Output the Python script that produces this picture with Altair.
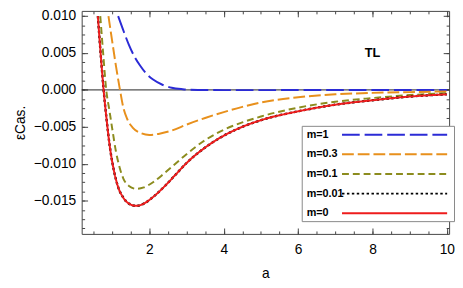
import altair as alt
import pandas as pd

# ---------------- data ----------------
m_labels = ["m=1", "m=0.3", "m=0.1", "m=0.01", "m=0"]
colors = ["#2b2bd6", "#e8901c", "#8c8c1e", "#000000", "#ee1c1c"]
dashes = [[18, 5], [12, 4], [7, 4], [2.5, 2.5], [1, 0]]
widths = [2.0, 2.0, 2.0, 2.4, 2.0]

a_m1 = [1.16, 1.29, 1.45, 1.6, 1.75, 1.9, 2.1, 2.35, 2.6, 2.9, 3.3, 4.0, 5.0, 6.0, 8.0, 10.0]
v_m1 = [0.0100, 0.0082, 0.0061, 0.0045, 0.0033, 0.0023, 0.0014, 0.0007, 0.0003, 0.0001,
        0.0, -0.00003, -0.00003, -0.00002, -0.00001, 0.0]

a_m03 = [0.90, 1.0, 1.1, 1.21, 1.3, 1.4, 1.55, 1.75, 2.0, 2.3, 2.6, 3.0, 3.5, 4.0, 4.5,
         5.0, 6.0, 7.0, 8.0, 9.0, 10.0]
v_m03 = [0.0100, 0.0066, 0.0033, 0.0, -0.0024, -0.0039, -0.0051, -0.0058, -0.0061, -0.0059,
         -0.0055, -0.0047, -0.0038, -0.0030, -0.0023, -0.0017, -0.0010, -0.0006, -0.0004,
         -0.0003, -0.0002]

a_m01 = [0.68, 0.76, 0.84, 0.92, 1.0, 1.1, 1.2, 1.3, 1.45, 1.65, 1.85, 2.1, 2.4, 2.7, 3.0,
         3.5, 4.0, 4.5, 5.0, 6.0, 7.0, 8.0, 9.0, 10.0]
v_m01 = [0.0100, 0.0048, 0.0, -0.0026, -0.0052, -0.0083, -0.0105, -0.0120, -0.0130, -0.0134,
         -0.0132, -0.0125, -0.0113, -0.0100, -0.0087, -0.0068, -0.0054, -0.0044, -0.0036,
         -0.0024, -0.0016, -0.0011, -0.0007, -0.00045]

a_m001 = [0.615, 0.69, 0.77, 0.85, 0.94, 1.05, 1.15, 1.3, 1.45, 1.65, 1.85, 2.1, 2.4, 2.7,
          3.0, 3.5, 4.0, 4.5, 5.0, 6.0, 7.0, 8.0, 9.0, 10.0]
v_m001 = [0.0100, 0.0049, 0.0, -0.0040, -0.0078, -0.0110, -0.0130, -0.0146, -0.0154, -0.0157,
          -0.0154, -0.0145, -0.0131, -0.0115, -0.0099, -0.0078, -0.0062, -0.0050, -0.0041,
          -0.0029, -0.0020, -0.0014, -0.0009, -0.0006]

a_m0 = [0.615, 0.69, 0.77, 0.85, 0.94, 1.05, 1.15, 1.3, 1.45, 1.65, 1.85, 2.1, 2.4, 2.7,
        3.0, 3.5, 4.0, 4.5, 5.0, 6.0, 7.0, 8.0, 9.0, 10.0]
v_m0 = [0.0100, 0.0049, 0.0, -0.0040, -0.0078, -0.0110, -0.0130, -0.0146, -0.0154, -0.0157,
        -0.0154, -0.0145, -0.0131, -0.0115, -0.0099, -0.0078, -0.0062, -0.0050, -0.0041,
        -0.0029, -0.0020, -0.0014, -0.0009, -0.0006]

x_major = [2, 4, 6, 8, 10]
x_minor = [0.5 * i for i in range(1, 21)]
y_major = [-0.015, -0.010, -0.005, 0.0, 0.005, 0.010]
y_minor = [round(-0.01875 + 0.00125 * i, 5) for i in range(0, 24)]

annot_a = [8.0]
annot_v = [0.005]
annot_t = ["TL"]

# ---------------- build ----------------
series = [(a_m1, v_m1), (a_m03, v_m03), (a_m01, v_m01), (a_m001, v_m001), (a_m0, v_m0)]
rows = []
for lab, (xs, ys) in zip(m_labels, series):
    for x, y in zip(xs, ys):
        rows.append({"m": lab, "a": x, "v": y})
df = pd.DataFrame(rows)

W, H = 374, 227
xscale = alt.Scale(domain=[0.18, 10.06], nice=False, zero=False)
yscale = alt.Scale(domain=[-0.0195, 0.0107], nice=False, zero=False)

FONT = "Liberation Sans"

axX = [
    alt.Axis(orient="bottom", values=x_major, title="a", ticks=False, tickSize=0, domain=True,
             labelPadding=9, titlePadding=10, format="d", labelFontSize=14, titleFontSize=14,
             titleFontWeight="normal"),
    alt.Axis(orient="top", offset=-H, values=x_major, labels=False, tickSize=6, domain=False, title=None),
    alt.Axis(orient="top", offset=-H, values=x_minor, labels=False, tickSize=3, domain=False, title=None),
    alt.Axis(orient="bottom", offset=-H, values=x_major, labels=False, tickSize=6, domain=True, title=None),
    alt.Axis(orient="bottom", offset=-H, values=x_minor, labels=False, tickSize=3, domain=False, title=None),
]
axY = [
    alt.Axis(orient="left", values=y_major, title="εCas.", ticks=False, tickSize=0, domain=True,
             labelPadding=6, titlePadding=6, format=".3f", labelFontSize=14, titleFontSize=14,
             titleFontWeight="normal"),
    alt.Axis(orient="right", offset=-W, values=y_major, labels=False, tickSize=6, domain=False, title=None),
    alt.Axis(orient="right", offset=-W, values=y_minor, labels=False, tickSize=3, domain=False, title=None),
    alt.Axis(orient="left", offset=-W, values=y_major, labels=False, tickSize=6, domain=True, title=None),
    alt.Axis(orient="left", offset=-W, values=y_minor, labels=False, tickSize=3, domain=False, title=None),
]

# legend: line symbol drawn to the right of its label (custom path shifted right)
legend = alt.Legend(title=None, orient="none", legendX=224, legendY=117,
                    symbolType="M 6.4 0 L 27.8 0", symbolSize=100, symbolStrokeWidth=2,
                    labelOffset={"expr": "-10"},
                    labelFontSize=11, labelFontWeight="bold", labelFont=FONT, rowPadding=9,
                    padding=3, strokeColor="#888888", fillColor="white")

layers = []
for i, lab in enumerate(m_labels):
    layers.append(
        alt.Chart(df)
        .transform_filter(alt.datum.m == lab)
        .mark_line(interpolate="monotone", strokeWidth=widths[i], clip=True)
        .encode(
            x=alt.X("a:Q", scale=xscale, axis=axX[i]),
            y=alt.Y("v:Q", scale=yscale, axis=axY[i]),
            color=alt.Color("m:N", scale=alt.Scale(domain=m_labels, range=colors), legend=legend),
            strokeDash=alt.StrokeDash("m:N", scale=alt.Scale(domain=m_labels, range=dashes), legend=legend),
        )
    )

zero = alt.Chart(pd.DataFrame({"v": [0.0]})).mark_rule(color="#222222", strokeWidth=1).encode(
    y=alt.Y("v:Q", scale=yscale, axis=None)
)

txt = alt.Chart(pd.DataFrame({"a": annot_a, "v": annot_v, "t": annot_t})).mark_text(
    font=FONT, fontSize=13, fontWeight="bold", color="black", baseline="middle", align="center"
).encode(
    x=alt.X("a:Q", scale=xscale, axis=None),
    y=alt.Y("v:Q", scale=yscale, axis=None),
    text="t:N",
)

chart = (
    alt.layer(zero, *layers, txt)
    .resolve_axis(x="independent", y="independent")
    .properties(width=W, height=H, padding={"left": 5, "top": -1.5, "right": 0, "bottom": 0})
    .configure_view(strokeWidth=0)
    .configure_axis(grid=False, domainColor="#444444", tickColor="#444444", labelColor="black",
                    titleColor="black", labelFont=FONT, titleFont=FONT, domainWidth=1, tickWidth=1)
)

chart.save("out.html", embed_options={"renderer": "svg", "actions": False})
